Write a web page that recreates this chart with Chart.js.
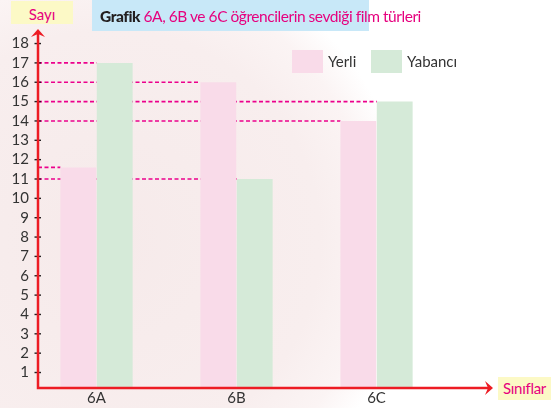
<!DOCTYPE html>
<html>
<head>
<meta charset="utf-8">
<script src="https://cdn.jsdelivr.net/npm/chart.js@4"></script>
<style>
  html, body { margin: 0; padding: 0; }
  body {
    width: 555px; height: 408px; overflow: hidden; position: relative;
    font-family: Lato, sans-serif;
    background: radial-gradient(circle 300px at 110px 240px, #f6eaea 0%, #f8eeee 70%, #fbf4f4 88%, #ffffff 100%);
  }
  #wrap { position: absolute; left: 0; top: 0; width: 555px; height: 408px; }
  .box { position: absolute; white-space: nowrap; }
  #title { left: 92px; top: 0; width: 277px; height: 31px; background: #c8e8f8; font-size: 15.5px; line-height: 32px; color: #e6007e; padding-left: 8px; box-sizing: border-box; letter-spacing: -0.45px; }
  #title b { color: #231f20; font-weight: 900; }
  #ylab { left: 11px; top: 1px; width: 62px; height: 23px; background: #fcf9c6; color: #e6007e; font-size: 15px; line-height: 26px; text-align: center; }
  #xlab { left: 498px; top: 377px; width: 53px; height: 23px; background: #fcf9c6; color: #e6007e; font-size: 15px; line-height: 23px; text-align: center; letter-spacing: -0.3px; }
  .leg { position: absolute; top: 50px; height: 23px; font-size: 15px; line-height: 23px; color: #333; }
  .leg span { position: absolute; top: 0; width: 31px; height: 23px; }
  .leg em { font-style: normal; position: absolute; left: 36px; top: 0; }
</style>
</head>
<body>
<div id="wrap"><canvas id="chart" width="555" height="408"></canvas></div>
<div class="box" id="title"><b>Grafik</b> 6A, 6B ve 6C öğrencilerin sevdiği film türleri</div>
<div class="box" id="ylab">Sayı</div>
<div class="box" id="xlab">Sınıflar</div>
<div id="legend"></div>
<script>
// ============================================================
// Data
// ============================================================

const categories = ['6A', '6B', '6C'];
const seriesNames = ['Yerli', 'Yabancı'];
const yerli = [11.6, 16, 14];
const yabanci = [17, 11, 15];
const yTicks = [1, 2, 3, 4, 5, 6, 7, 8, 9, 10, 11, 12, 13, 14, 15, 16, 17, 18];

const colors = ['#f9dbe9', '#d5ead8'];
const RED = '#ed1c24';
const MAGENTA = '#ec008c';

// legend (html)
const legendLeft = [292, 371];
const legendEl = document.getElementById('legend');
seriesNames.forEach((name, i) => {
  const d = document.createElement('div');
  d.className = 'leg';
  d.style.left = legendLeft[i] + 'px';
  d.innerHTML = '<span style="background:' + colors[i] + '"></span><em>' + name + '</em>';
  legendEl.appendChild(d);
});

// ============================================================
// Plugins: dashed guides, axes with arrows, tick marks
// ============================================================

const guides = {
  id: 'guides',
  beforeDatasetsDraw(chart) {
    const ctx = chart.ctx;
    const left = chart.chartArea.left;
    ctx.save();
    ctx.strokeStyle = MAGENTA;
    ctx.lineWidth = 1.6;
    ctx.setLineDash([4, 2.5]);
    chart.data.datasets.forEach((ds, di) => {
      chart.getDatasetMeta(di).data.forEach(bar => {
        ctx.beginPath();
        ctx.moveTo(left, bar.y);
        ctx.lineTo(bar.x - bar.width / 2, bar.y);
        ctx.stroke();
      });
    });
    ctx.restore();
  }
};

const axesArrows = {
  id: 'axesArrows',
  afterDatasetsDraw(chart) {
    const ctx = chart.ctx;
    const { left, right, top, bottom } = chart.chartArea;
    const y = chart.scales.y;
    ctx.save();
    // tick marks
    ctx.strokeStyle = '#231f20';
    ctx.lineWidth = 1.4;
    yTicks.forEach(v => {
      const py = y.getPixelForValue(v);
      ctx.beginPath();
      ctx.moveTo(left - 3.5, py);
      ctx.lineTo(left + 3, py);
      ctx.stroke();
    });
    // axis lines
    ctx.strokeStyle = RED;
    ctx.lineWidth = 2.5;
    ctx.beginPath();
    ctx.moveTo(left, top + 4);
    ctx.lineTo(left, bottom);
    ctx.lineTo(right - 4, bottom);
    ctx.stroke();
    // arrow heads
    ctx.fillStyle = RED;
    ctx.beginPath();
    ctx.moveTo(left, top - 1);
    ctx.lineTo(left + 7, top + 7);
    ctx.lineTo(left, top + 4);
    ctx.lineTo(left - 7, top + 7);
    ctx.closePath();
    ctx.fill();
    ctx.beginPath();
    ctx.moveTo(right + 1, bottom);
    ctx.lineTo(right - 7, bottom - 7);
    ctx.lineTo(right - 4, bottom);
    ctx.lineTo(right - 7, bottom + 7);
    ctx.closePath();
    ctx.fill();
    ctx.restore();
  }
};

// ============================================================
// Chart
// ============================================================

const datasets = [yerli, yabanci].map((vals, i) => ({
  label: seriesNames[i],
  data: vals.map((v, k) => ({ x: k, y: v })),
  backgroundColor: colors[i],
  borderWidth: 0,
  barPercentage: 0.985,
  categoryPercentage: 0.52
}));

new Chart(document.getElementById('chart'), {
  type: 'bar',
  data: { datasets },
  plugins: [guides, axesArrows],
  options: {
    responsive: false,
    animation: false,
    layout: { padding: { top: 30, right: 63, bottom: 0, left: 0 } },
    plugins: { legend: { display: false }, tooltip: { enabled: false } },
    scales: {
      x: {
        type: 'linear',
        offset: false,
        min: -0.418,
        max: 2.825,
        grid: { display: false, drawTicks: false },
        border: { display: false },
        afterBuildTicks: s => { s.ticks = categories.map((c, i) => ({ value: i })); },
        afterFit: s => { s.height = 20; },
        ticks: {
          padding: 1,
          color: '#333',
          font: { family: 'Lato', size: 15 },
          callback: v => categories[v]
        }
      },
      y: {
        min: 0.2,
        max: 18.7,
        grid: { display: false, drawTicks: false },
        border: { display: false },
        afterBuildTicks: s => { s.ticks = yTicks.map(v => ({ value: v })); },
        afterFit: s => { s.width = 38; },
        ticks: {
          padding: 9,
          color: '#333',
          font: { family: 'Lato', size: 15 }
        }
      }
    }
  }
});
</script>
</body>
</html>
